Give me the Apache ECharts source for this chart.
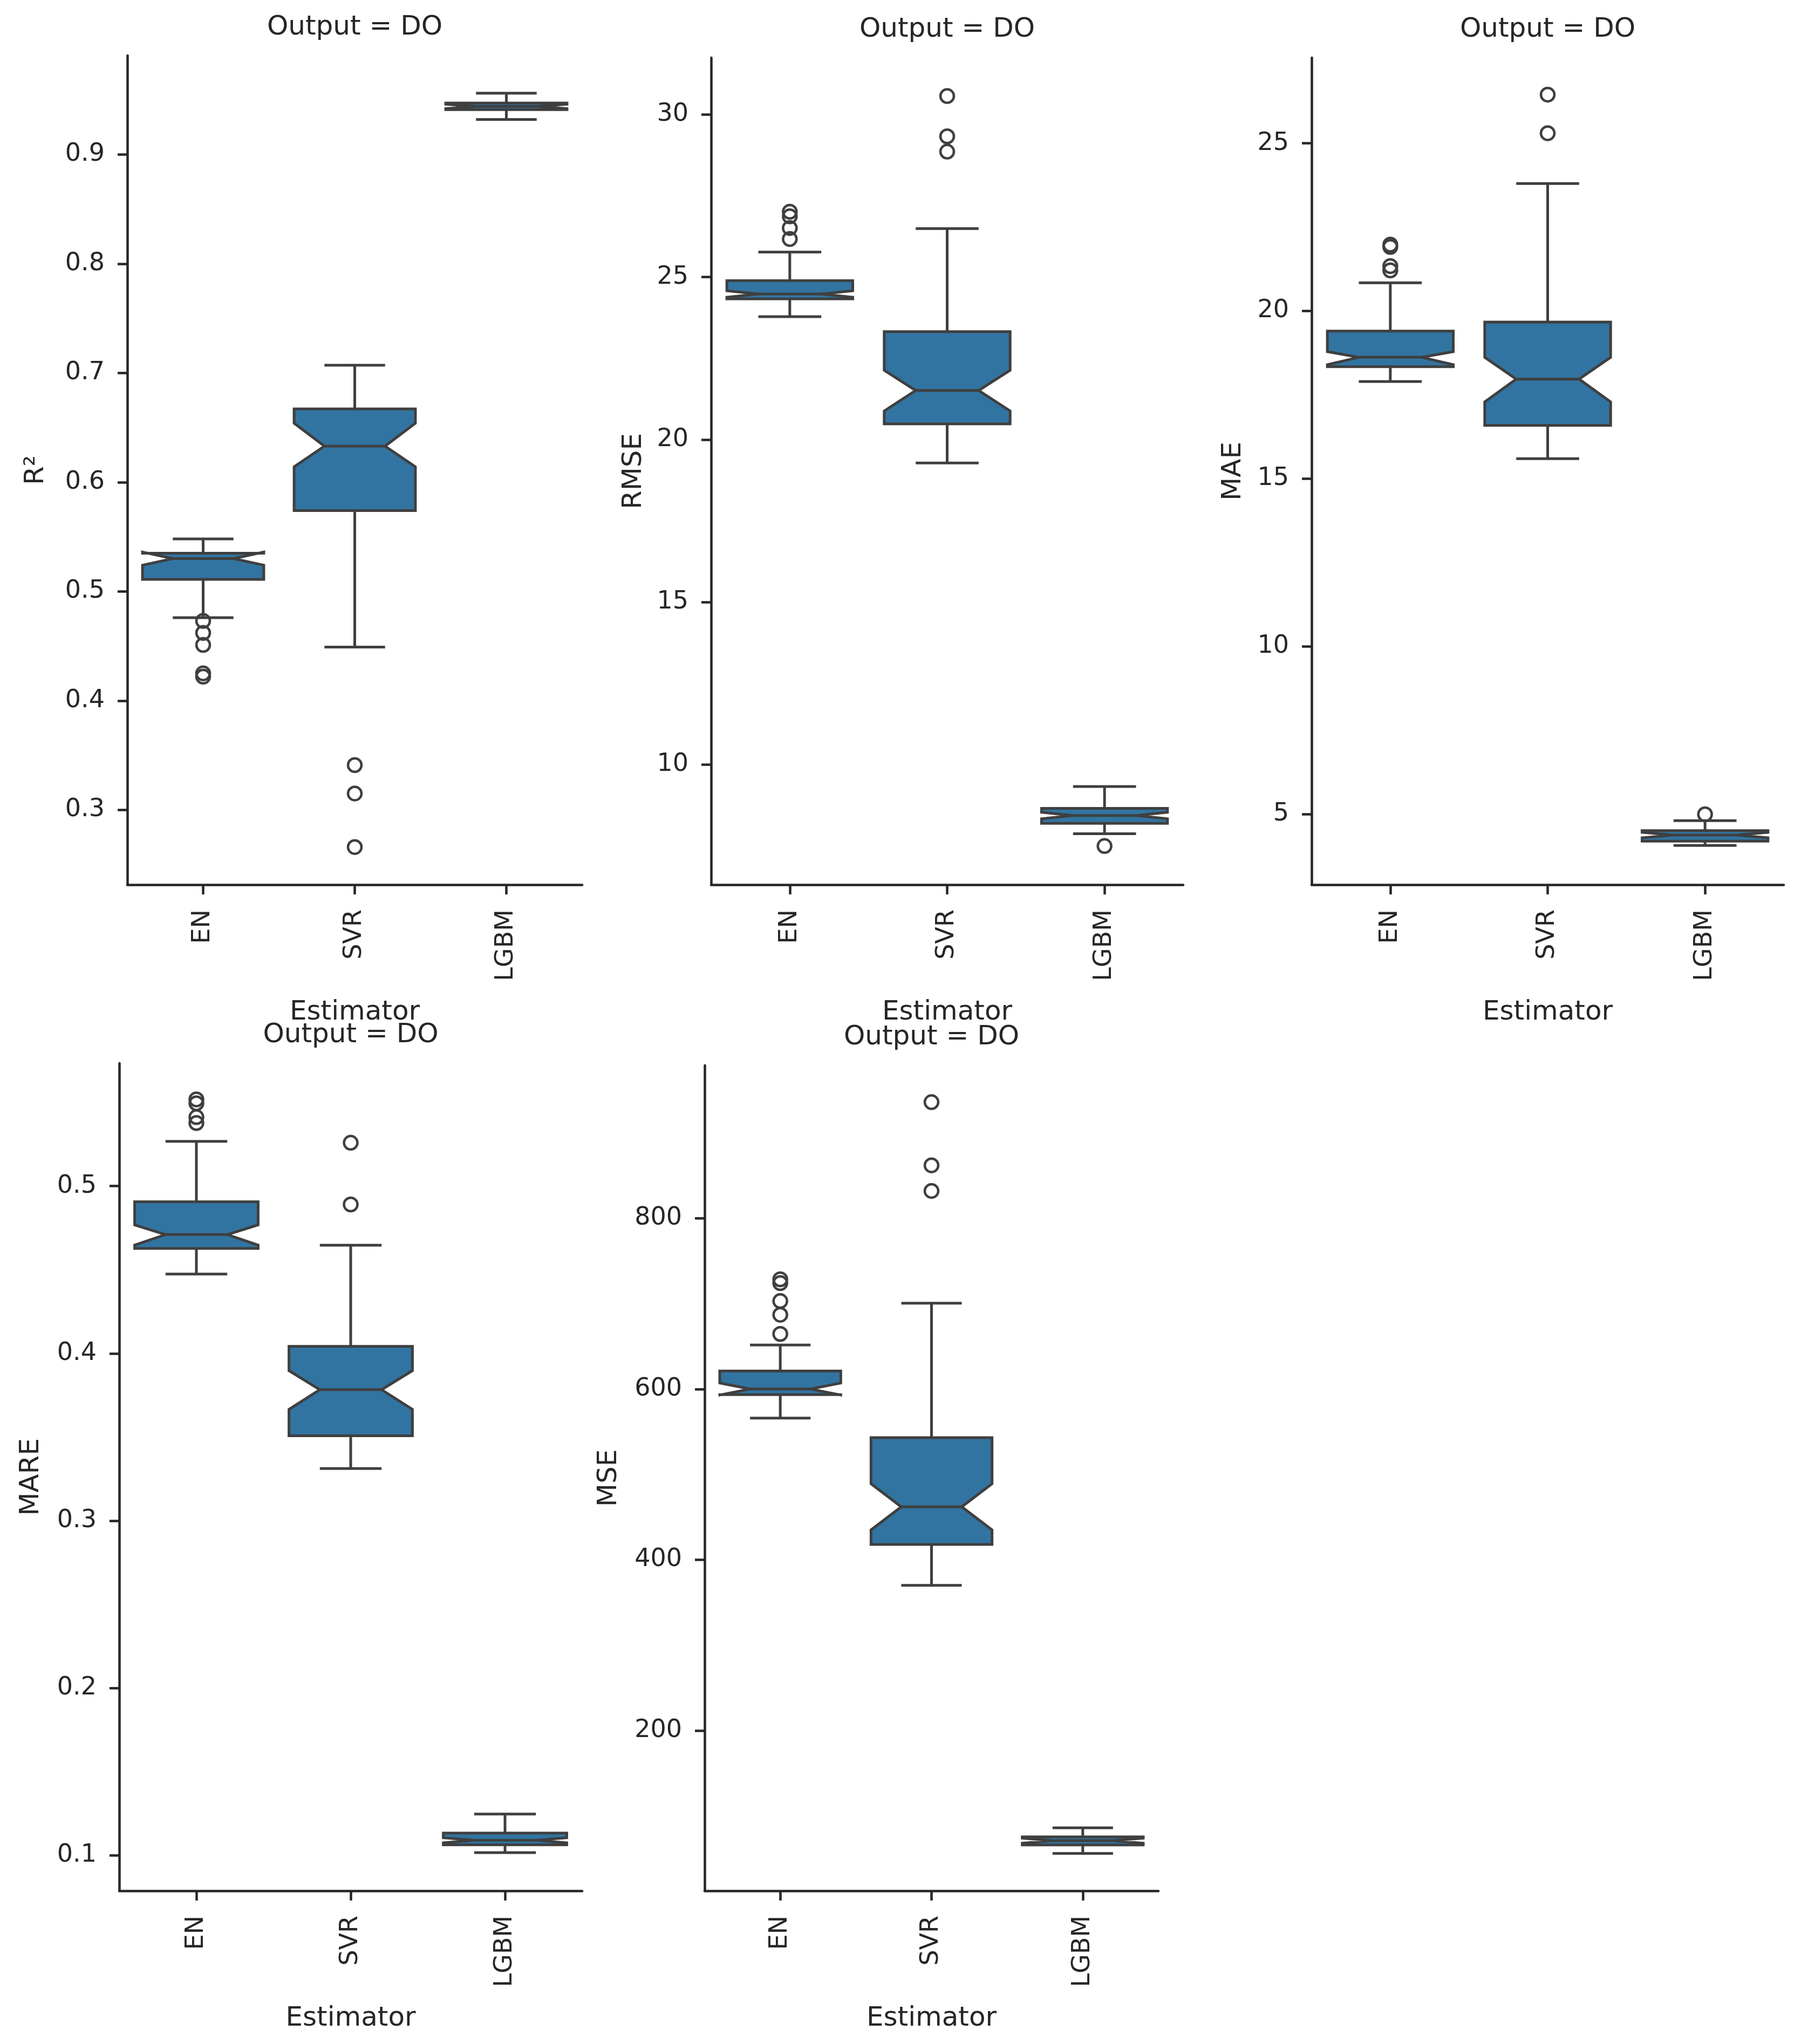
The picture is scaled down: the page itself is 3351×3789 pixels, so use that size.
<!DOCTYPE html>
<html>
<head>
<meta charset="utf-8">
<script src="https://cdn.jsdelivr.net/npm/echarts@6/dist/echarts.min.js"></script>
<style>
html,body{margin:0;padding:0;background:#fff;}
#chart{width:3351px;height:3789px;}
</style>
</head>
<body>
<div id="chart"></div>
<script>
// ---------------- DATA ----------------
const categories = ['EN', 'SVR', 'LGBM'];
const panelTitle = 'Output = DO';
const xName = 'Estimator';

// Box stats per estimator: [whisker low, Q1, notch low, median, notch high, Q3, whisker high]
const r2Stats = [
  [0.476, 0.511, 0.524, 0.530, 0.536, 0.535, 0.548],
  [0.449, 0.574, 0.614, 0.633, 0.654, 0.667, 0.707],
  [0.932, 0.941, 0.942, 0.944, 0.946, 0.947, 0.956]
];
const r2Outliers = [['EN', 0.473], ['EN', 0.462], ['EN', 0.451], ['EN', 0.425], ['EN', 0.422],
                    ['SVR', 0.341], ['SVR', 0.315], ['SVR', 0.266]];
const r2Ticks = [0.3, 0.4, 0.5, 0.6, 0.7, 0.8, 0.9];

const rmseStats = [
  [23.78, 24.33, 24.38, 24.48, 24.58, 24.89, 25.77],
  [19.28, 20.48, 20.88, 21.51, 22.13, 23.32, 26.49],
  [7.87, 8.19, 8.33, 8.43, 8.53, 8.65, 9.32]
];
const rmseOutliers = [['EN', 27.01], ['EN', 26.87], ['EN', 26.51], ['EN', 26.17],
                      ['SVR', 30.57], ['SVR', 29.33], ['SVR', 28.86], ['LGBM', 7.49]];
const rmseTicks = [10, 15, 20, 25, 30];

const maeStats = [
  [17.90, 18.34, 18.40, 18.62, 18.79, 19.40, 20.84],
  [15.60, 16.59, 17.29, 17.97, 18.62, 19.67, 23.80],
  [4.07, 4.20, 4.30, 4.38, 4.46, 4.51, 4.81]
];
const maeOutliers = [['EN', 21.98], ['EN', 21.91], ['EN', 21.34], ['EN', 21.21],
                     ['SVR', 26.45], ['SVR', 25.30], ['LGBM', 5.00]];
const maeTicks = [5, 10, 15, 20, 25];

const mareStats = [
  [0.4474, 0.4627, 0.4647, 0.4710, 0.4768, 0.4906, 0.5267],
  [0.3312, 0.3508, 0.3665, 0.3783, 0.3897, 0.4042, 0.4647],
  [0.1016, 0.1063, 0.1075, 0.1090, 0.1105, 0.1133, 0.1247]
];
const mareOutliers = [['EN', 0.5518], ['EN', 0.5495], ['EN', 0.5412], ['EN', 0.5377],
                      ['SVR', 0.5259], ['SVR', 0.4890]];
const mareTicks = [0.1, 0.2, 0.3, 0.4, 0.5];

const mseStats = [
  [566, 593.5, 593, 600, 607, 621, 651.5],
  [370, 418, 435, 462, 489, 543, 700.5],
  [56, 66, 68, 71, 74, 75.5, 86]
];
const mseOutliers = [['EN', 728.5], ['EN', 724], ['EN', 703], ['EN', 687], ['EN', 664.5],
                     ['SVR', 936], ['SVR', 862], ['SVR', 832]];
const mseTicks = [200, 400, 600, 800];

// ---------------- PANELS ----------------
const panels = [
  { yName: 'R²',   stats: r2Stats,   outliers: r2Outliers,   ticks: r2Ticks,   min: 0.2315, max: 0.9905, dec: 1,
    grid: { left: 236, top: 103, width: 843, height: 1537 }, nameGap: 144 },
  { yName: 'RMSE', stats: rmseStats, outliers: rmseOutliers, ticks: rmseTicks, min: 6.30, max: 31.75, dec: 0,
    grid: { left: 1318, top: 107, width: 875, height: 1533 }, nameGap: 118 },
  { yName: 'MAE',  stats: maeStats,  outliers: maeOutliers,  ticks: maeTicks,  min: 2.90, max: 27.55, dec: 0,
    grid: { left: 2431, top: 107, width: 875, height: 1533 }, nameGap: 120 },
  { yName: 'MARE', stats: mareStats, outliers: mareOutliers, ticks: mareTicks, min: 0.0788, max: 0.5734, dec: 1,
    grid: { left: 221, top: 1971, width: 858, height: 1534 }, nameGap: 138 },
  { yName: 'MSE',  stats: mseStats,  outliers: mseOutliers,  ticks: mseTicks,  min: 12.3, max: 979, dec: 0,
    grid: { left: 1306, top: 1975, width: 841, height: 1530 }, nameGap: 152 }
];

const FONT = 'DejaVu Sans';
const TEXT = '#262626';
const LINE = '#3f3f3f';
const FILL = '#3274a1';

function renderBox(params, api) {
  const c = api.value(0);
  const band = api.size([1, 0])[0];
  const half = band * 0.4, nh = band * 0.2, cap = band * 0.2;
  const cx = api.coord([c, api.value(1)])[0];
  const y = i => api.coord([c, api.value(i)])[1];
  const wlo = y(1), q1 = y(2), clo = y(3), med = y(4), chi = y(5), q3 = y(6), whi = y(7);
  const L = cx - half, R = cx + half, nL = cx - nh, nR = cx + nh;
  const ls = { stroke: LINE, lineWidth: 5, lineCap: 'butt', fill: null };
  return {
    type: 'group',
    children: [
      { type: 'line', shape: { x1: cx, y1: q1, x2: cx, y2: wlo }, style: ls },
      { type: 'line', shape: { x1: cx, y1: q3, x2: cx, y2: whi }, style: ls },
      { type: 'line', shape: { x1: cx - cap, y1: wlo, x2: cx + cap, y2: wlo }, style: ls },
      { type: 'line', shape: { x1: cx - cap, y1: whi, x2: cx + cap, y2: whi }, style: ls },
      { type: 'polygon',
        shape: { points: [[L, q1], [R, q1], [R, clo], [nR, med], [R, chi], [R, q3],
                          [L, q3], [L, chi], [nL, med], [L, clo]] },
        style: { fill: FILL, stroke: LINE, lineWidth: 5, lineJoin: 'miter' } },
      { type: 'line', shape: { x1: nL, y1: med, x2: nR, y2: med }, style: ls }
    ]
  };
}

const grids = [], xAxes = [], yAxes = [], series = [], graphics = [];
panels.forEach((p, k) => {
  grids.push(Object.assign({ containLabel: false }, p.grid));
  xAxes.push({
    type: 'category', gridIndex: k, data: categories, boundaryGap: true,
    name: xName, nameLocation: 'middle', nameGap: 212,
    nameTextStyle: { fontFamily: FONT, fontSize: 50, color: TEXT },
    axisLine: { show: true, lineStyle: { color: TEXT, width: 4.5 } },
    axisTick: { show: true, alignWithLabel: true, length: 18, lineStyle: { color: TEXT, width: 4.5 } },
    axisLabel: { rotate: 90, margin: 46, fontFamily: FONT, fontSize: 46, color: TEXT },
    splitLine: { show: false }
  });
  yAxes.push({
    type: 'value', gridIndex: k, min: p.min, max: p.max,
    name: p.yName, nameLocation: 'middle', nameGap: p.nameGap, nameRotate: 90,
    nameTextStyle: { fontFamily: FONT, fontSize: 50, color: TEXT },
    axisLine: { show: true, lineStyle: { color: TEXT, width: 4.5 } },
    axisTick: { show: true, length: 18, customValues: p.ticks, lineStyle: { color: TEXT, width: 4.5 } },
    axisLabel: { margin: 42, fontFamily: FONT, fontSize: 46, color: TEXT, customValues: p.ticks,
                 formatter: v => Number(v).toFixed(p.dec) },
    splitLine: { show: false }
  });
  series.push({
    type: 'custom', xAxisIndex: k, yAxisIndex: k, silent: true,
    renderItem: renderBox,
    encode: { x: 0, y: [1, 2, 3, 4, 5, 6, 7] },
    data: p.stats.map((s, i) => [i].concat(s)),
    z: 2
  });
  series.push({
    type: 'scatter', xAxisIndex: k, yAxisIndex: k, silent: true,
    symbol: 'circle', symbolSize: 25,
    itemStyle: { color: 'rgba(0,0,0,0)', borderColor: LINE, borderWidth: 4.5, opacity: 1 },
    data: p.outliers,
    z: 3
  });
  graphics.push({
    type: 'text', silent: true,
    x: p.grid.left + p.grid.width / 2, y: p.grid.top - 52,
    style: { text: panelTitle, font: '50px "' + FONT + '"', fill: TEXT, textAlign: 'center', textVerticalAlign: 'middle' }
  });
});

const chart = echarts.init(document.getElementById('chart'), null, { renderer: 'canvas' });
chart.setOption({
  backgroundColor: '#ffffff',
  animation: false,
  grid: grids,
  xAxis: xAxes,
  yAxis: yAxes,
  series: series,
  graphic: graphics
});
</script>
</body>
</html>
